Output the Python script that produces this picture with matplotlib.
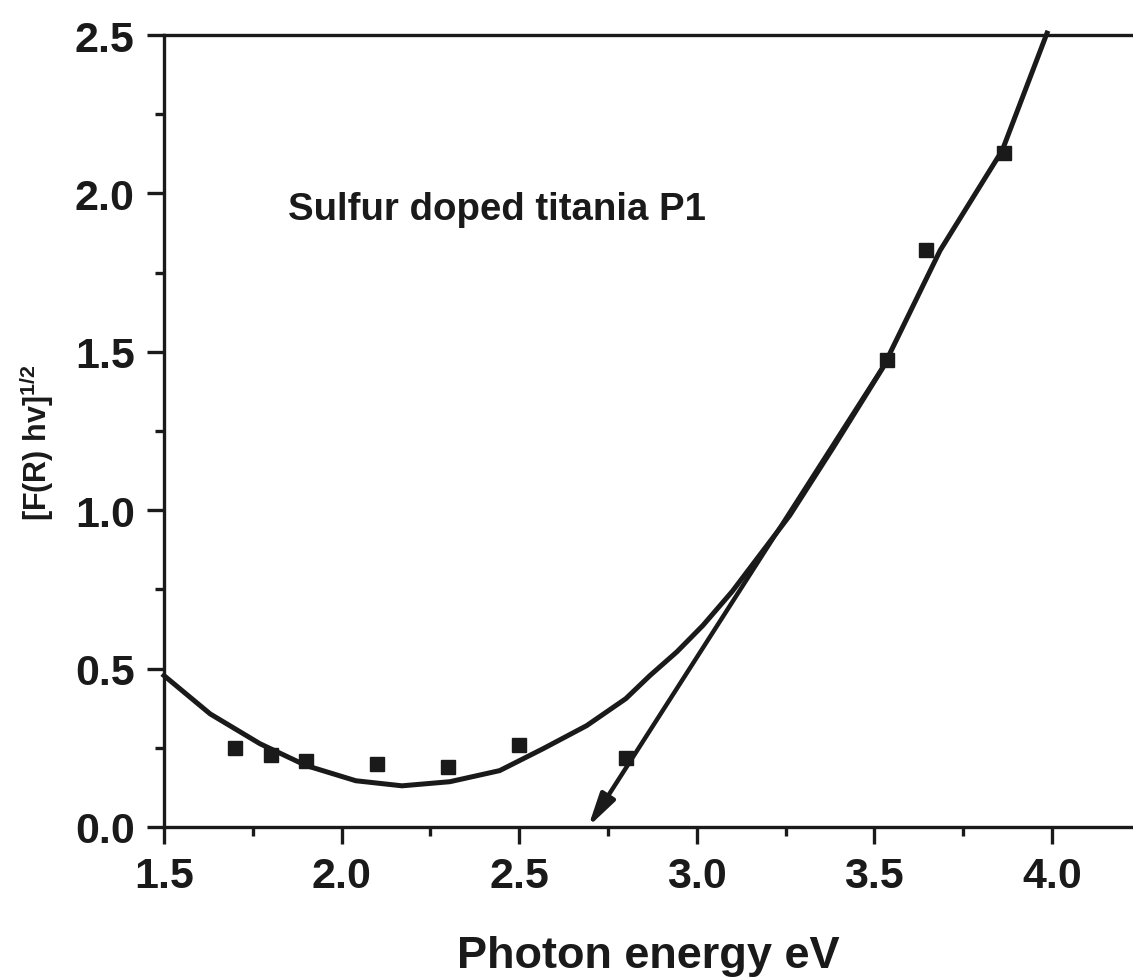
import matplotlib
matplotlib.use("Agg")
import matplotlib.pyplot as plt
from matplotlib.ticker import MultipleLocator

plt.rcParams['font.family'] = ['Liberation Sans', 'DejaVu Sans']
plt.rcParams['font.weight'] = 'bold'

# measured data points
pts_x = [1.70, 1.80, 1.90, 2.10, 2.30, 2.50, 2.80, 3.535, 3.645, 3.865]
pts_y = [0.25, 0.228, 0.209, 0.20, 0.19, 0.26, 0.218, 1.475, 1.82, 2.127]

# fitted curve
fit_x = [1.5, 1.63, 1.77, 1.90, 2.04, 2.17, 2.305, 2.445, 2.567, 2.69, 2.80,
         2.868, 2.944, 3.017, 3.10, 3.262, 3.383, 3.524, 3.685, 3.86, 3.986]
fit_y = [0.478, 0.357, 0.263, 0.194, 0.146, 0.13, 0.143, 0.178, 0.247, 0.32, 0.405,
         0.478, 0.553, 0.636, 0.744, 0.984, 1.196, 1.45, 1.82, 2.136, 2.506]

# tangent (band-gap extrapolation)
tan_start = (3.54, 1.48)
tan_end = (2.694, 0.0)

label_text = "Sulfur doped titania P1"
xlabel = "Photon energy eV"
ylabel = r"[F(R) hv]$^{\mathregular{1/2}}$"

ink = '#1a1a1a'
fig = plt.figure(figsize=(11.33, 9.78), dpi=100)
ax = fig.add_axes([164/1133, 1 - 828/978, 1 - 164/1133, (828 - 36)/978])

ax.plot(fit_x, fit_y, color=ink, lw=3.6, solid_joinstyle='round', zorder=3, clip_on=False)
ax.plot(pts_x, pts_y, 's', color=ink, markersize=9.5, zorder=4)
ax.annotate('', xy=tan_end, xytext=tan_start,
            arrowprops=dict(arrowstyle='-|>,head_length=0.8,head_width=0.2', color=ink,
                            lw=3.2, mutation_scale=25, shrinkA=0, shrinkB=0), zorder=3)

ax.text(1.849, 1.92, label_text, fontsize=27.6, fontweight='bold', color=ink, ha='left', va='baseline')

ax.set_xlim(1.5, 1.5 + (1133 - 164) / 355.2)
ax.set_ylim(0, 2.5)
ax.xaxis.set_major_locator(MultipleLocator(0.5))
ax.xaxis.set_minor_locator(MultipleLocator(0.25))
ax.yaxis.set_major_locator(MultipleLocator(0.5))
ax.yaxis.set_minor_locator(MultipleLocator(0.25))
ax.xaxis.set_major_formatter(plt.FormatStrFormatter('%.1f'))
ax.yaxis.set_major_formatter(plt.FormatStrFormatter('%.1f'))

for s in ['left', 'bottom', 'top']:
    ax.spines[s].set_linewidth(2.4)
    ax.spines[s].set_color(ink)
ax.spines['right'].set_visible(False)

ax.tick_params(which='major', direction='out', length=12, width=2.4, color=ink,
               labelsize=31, labelcolor=ink, pad=9, top=False, right=False)
ax.tick_params(which='minor', direction='out', length=6.5, width=2.4, color=ink,
               top=False, right=False)
for lab in ax.get_xticklabels() + ax.get_yticklabels():
    lab.set_fontweight('bold')

ax.set_xlabel(xlabel, fontsize=32.5, fontweight='bold', color=ink, labelpad=28)
fig.text(36/1133, 1 - 443/978, ylabel, rotation=90, fontsize=22, fontweight='bold',
         color=ink, ha='center', va='center')

fig.savefig('out.png', dpi=100)
